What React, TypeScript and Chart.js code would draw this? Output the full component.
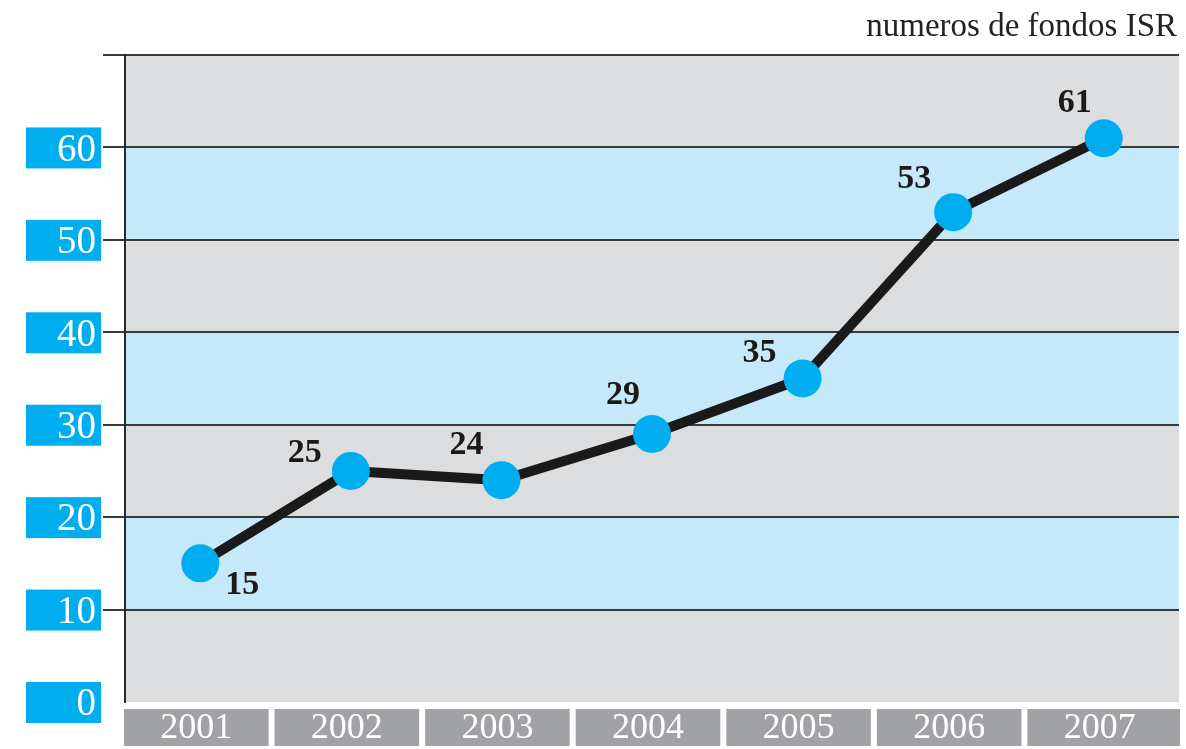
import React, { useEffect, useRef } from "react";
import { Chart, registerables } from "chart.js";

Chart.register(...registerables);

const years = ["2001", "2002", "2003", "2004", "2005", "2006", "2007"];
const fundCounts = [15, 25, 24, 29, 35, 53, 61];
const yTickValues = [0, 10, 20, 30, 40, 50, 60, 70];
const unitLabel = "numeros de fondos ISR";
// label placement relative to each point (style only)
const labelOffsets = [
  [42, 21],
  [-46, -19],
  [-35, -36],
  [-29, -40],
  [-43, -26],
  [-39, -34],
  [-29, -36],
];

const SERIF = "'Liberation Serif', 'DejaVu Serif', serif";
const BLUE = "#00aeef";
const BAND_BLUE = "#c6e9fa";
const BAND_GRAY = "#dcdddf";
const BOX_GRAY = "#a0a2a5";

const decorPlugin = {
  id: "decor",
  beforeDraw(chart: any) {
    const { ctx, chartArea, scales } = chart;
    const y = scales.y;
    ctx.save();
    for (let i = 0; i < yTickValues.length - 1; i++) {
      const lo = yTickValues[i];
      const hi = yTickValues[i + 1];
      const top = y.getPixelForValue(hi);
      const bot = y.getPixelForValue(lo);
      ctx.fillStyle = (lo / 10) % 2 === 0 ? BAND_GRAY : BAND_BLUE;
      ctx.fillRect(chartArea.left, top, chartArea.right - chartArea.left, bot - top);
    }
    ctx.restore();
  },
  afterDraw(chart: any) {
    const { ctx, scales } = chart;
    const y = scales.y;
    const x = scales.x;
    ctx.save();
    // y labels in blue boxes
    yTickValues.forEach((v) => {
      if (v > 60) return;
      const py = y.getPixelForValue(v);
      ctx.fillStyle = BLUE;
      ctx.fillRect(26, py - 20, 75, 41);
      ctx.fillStyle = "#ffffff";
      ctx.font = `39px ${SERIF}`;
      ctx.textAlign = "right";
      ctx.textBaseline = "middle";
      ctx.fillText(String(v), 96, py + 3);
    });
    // x labels in gray boxes
    const step = (x.right - x.left) / years.length;
    years.forEach((yr, i) => {
      const cx = x.getPixelForValue(i) - 4;
      const last = i === years.length - 1;
      const w = step - 6;
      ctx.fillStyle = BOX_GRAY;
      ctx.fillRect(cx - w / 2, 709, last ? w + 8 : w, 37);
      ctx.fillStyle = "#ffffff";
      ctx.font = `36px ${SERIF}`;
      ctx.textAlign = "center";
      ctx.textBaseline = "middle";
      ctx.fillText(yr, cx, 729);
    });
    // data labels
    const meta = chart.getDatasetMeta(0);
    ctx.fillStyle = "#1a1a1a";
    ctx.font = `bold 34px ${SERIF}`;
    ctx.textAlign = "center";
    ctx.textBaseline = "middle";
    meta.data.forEach((pt: any, i: number) => {
      const [dx, dy] = labelOffsets[i];
      ctx.fillText(String(fundCounts[i]), pt.x + dx, pt.y + dy + 1);
    });
    // unit label
    ctx.fillStyle = "#222222";
    ctx.font = `33px ${SERIF}`;
    ctx.textAlign = "right";
    ctx.textBaseline = "alphabetic";
    ctx.fillText(unitLabel, 1177, 36);
    ctx.restore();
  },
};

export default function App() {
  const ref = useRef<HTMLCanvasElement>(null);
  useEffect(() => {
    if (!ref.current) return;
    const chart = new Chart(ref.current, {
      type: "line",
      data: {
        labels: years,
        datasets: [
          {
            data: fundCounts,
            borderColor: "#1a1a1a",
            borderWidth: 10,
            borderJoinStyle: "round",
            pointRadius: 19,
            pointHoverRadius: 19,
            pointBackgroundColor: BLUE,
            pointBorderWidth: 0,
            tension: 0,
            clip: false,
          },
        ],
      },
      options: {
        animation: false,
        responsive: true,
        maintainAspectRatio: false,
        layout: { autoPadding: false, padding: { top: 55, right: 7, left: 0, bottom: 0 } },
        plugins: { legend: { display: false }, tooltip: { enabled: false }, title: { display: false } },
        scales: {
          x: {
            type: "category",
            offset: true,
            grid: { display: false, drawTicks: false },
            border: { display: false },
            ticks: { display: false },
            afterFit: (s: any) => {
              s.height = 47;
            },
          },
          y: {
            min: 0,
            max: 70,
            ticks: { display: false, stepSize: 10 },
            grid: {
              color: (c: any) => (c.tick && c.tick.value === 0 ? "rgba(0,0,0,0)" : "#3a3a3a"),
              lineWidth: 2,
              drawTicks: true,
              tickLength: 22,
            },
            border: { display: true, color: "#2a2a2a", width: 2 },
            afterFit: (s: any) => {
              s.width = 125;
            },
          },
        },
      },
      plugins: [decorPlugin],
    });
    return () => chart.destroy();
  }, []);
  return (
    <div style={{ position: "fixed", left: 0, top: 0, width: 1186, height: 749, background: "#ffffff" }}>
      <canvas ref={ref} />
    </div>
  );
}
